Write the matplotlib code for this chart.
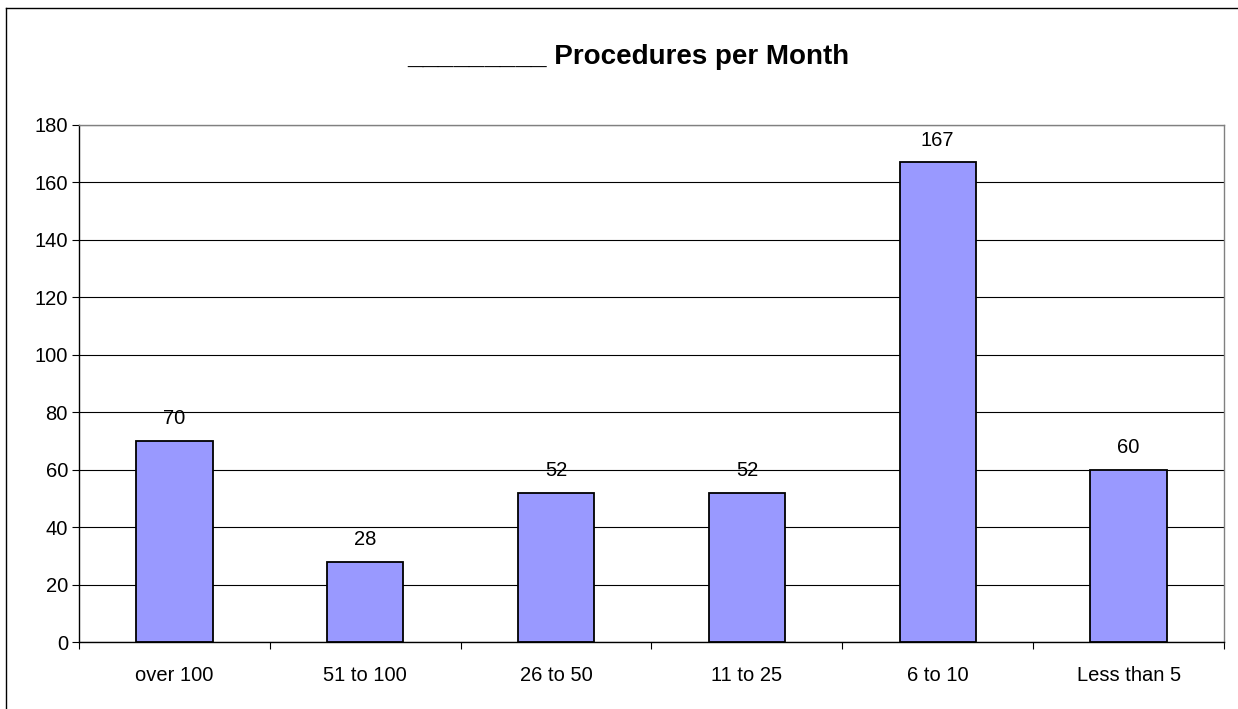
import matplotlib
matplotlib.use("Agg")
import matplotlib.pyplot as plt
from matplotlib.lines import Line2D
from matplotlib.ticker import FixedLocator, MultipleLocator
import numpy as np

categories = ["over 100", "51 to 100", "26 to 50", "11 to 25", "6 to 10", "Less than 5"]
values = [70, 28, 52, 52, 167, 60]
title = "_________ Procedures per Month"

plt.rcParams['font.family'] = ['Liberation Sans', 'DejaVu Sans']

W, H = 1238, 709
fig = plt.figure(figsize=(W / 100, H / 100), dpi=100)
fig.patch.set_facecolor('white')

# outer chart border (only top and left visible)
fig.add_artist(Line2D([5.5 / W, 1.0], [1 - 7.5 / H, 1 - 7.5 / H], transform=fig.transFigure,
                      color='black', linewidth=1.0))
fig.add_artist(Line2D([5.5 / W, 5.5 / W], [0, 1 - 7.5 / H], transform=fig.transFigure,
                      color='black', linewidth=1.0))

left, right, top, bottom = 79, 1224, 125, 642
ax = fig.add_axes([left / W, 1 - bottom / H, (right - left) / W, (bottom - top) / H])

x = np.arange(len(categories))
ax.bar(x, values, width=0.40, color='#9999FF', edgecolor='black', linewidth=1.3, zorder=3)

ax.set_xlim(-0.5, len(categories) - 0.5)
ax.set_ylim(0, 180)
ax.yaxis.set_major_locator(MultipleLocator(20))
ax.yaxis.grid(True, color='black', linewidth=0.8, zorder=0)
ax.set_axisbelow(True)

# x ticks at category boundaries, labels at centers
ax.xaxis.set_major_locator(FixedLocator(np.arange(-0.5, len(categories), 1.0)))
ax.set_xticklabels([])
ax.set_xticks(x, minor=True)
ax.set_xticklabels(categories, minor=True, fontsize=14.5)
ax.tick_params(axis='x', which='minor', length=0, pad=17)
ax.tick_params(axis='x', which='major', length=5, direction='out', color='black')
ax.tick_params(axis='y', length=5, direction='out', labelsize=14.5, pad=3)

for s in ['top', 'right']:
    ax.spines[s].set_color('#808080')
    ax.spines[s].set_linewidth(1.0)
for s in ['left', 'bottom']:
    ax.spines[s].set_color('black')
    ax.spines[s].set_linewidth(1.0)

for xi, v in zip(x, values):
    ax.annotate(str(v), (xi, v), xytext=(0, 9), textcoords='offset points',
                ha='center', va='bottom', fontsize=14.5)

fig.text(628 / W, 1 - 57 / H, title, ha='center', va='center', fontsize=20, fontweight='bold')

fig.savefig('out.png', dpi=100, facecolor='white')
